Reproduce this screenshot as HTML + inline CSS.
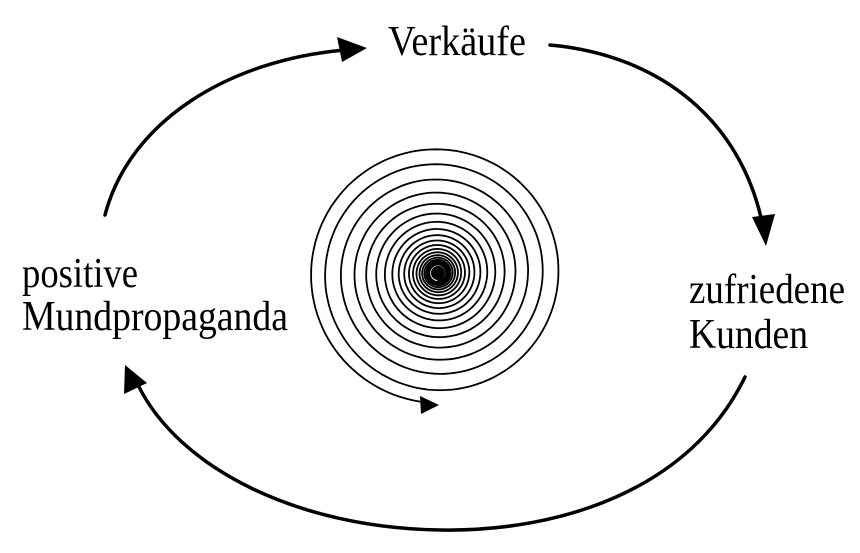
<!DOCTYPE html>
<html><head><meta charset="utf-8"><style>
html,body{margin:0;padding:0;background:#fff;}
svg{display:block;}
text{font-family:"Liberation Serif",serif;font-size:42px;fill:#000;}
</style></head><body>
<svg id="s" width="860" height="553" viewBox="0 0 860 553" xmlns="http://www.w3.org/2000/svg">
<text x="388" y="55" textLength="138" lengthAdjust="spacingAndGlyphs">Verkäufe</text>
<text x="22" y="287" textLength="116" lengthAdjust="spacingAndGlyphs">positive</text>
<text x="22" y="330" textLength="266" lengthAdjust="spacingAndGlyphs">Mundpropaganda</text>
<text x="689" y="303" textLength="156" lengthAdjust="spacingAndGlyphs">zufriedene</text>
<text x="689" y="348" textLength="119" lengthAdjust="spacingAndGlyphs">Kunden</text>
<g fill="none" stroke="#000" stroke-width="3.5" stroke-linecap="round">
<path d="M105,215 C130,120 230,60 345,50"/>
<path d="M550,45 C660,55 740,120 762,222"/>
<path d="M745,377 C690,490 560,532 440,530 C300,528 180,470 138,385"/>
</g>
<polygon points="367,48 337,37 342,62"/>
<polygon points="766,246 752,217 775,214"/>
<polygon points="125,365 124,394 147,383"/>
<path id="sp" fill="none" stroke="#000" stroke-width="1.8"/>
<circle cx="438" cy="273" r="7"/>
<polygon points="439,405 420,396 421,414"/>
</svg>
<script>
(function(){
var cx=438,cy=273,d="",turns=19,N=turns*120;
for(var i=0;i<=N;i++){
 var phi=i/120;
 var r=phi<1?(130-13*phi):117*Math.pow(0.86,phi-1);
 var th=(95+phi*360)*Math.PI/180;
 var x=cx+r*Math.cos(th),y=cy+r*Math.sin(th);
 d+=(i?"L":"M")+x.toFixed(1)+","+y.toFixed(1);
}
document.getElementById("sp").setAttribute("d",d);
})();
</script>
</body></html>
